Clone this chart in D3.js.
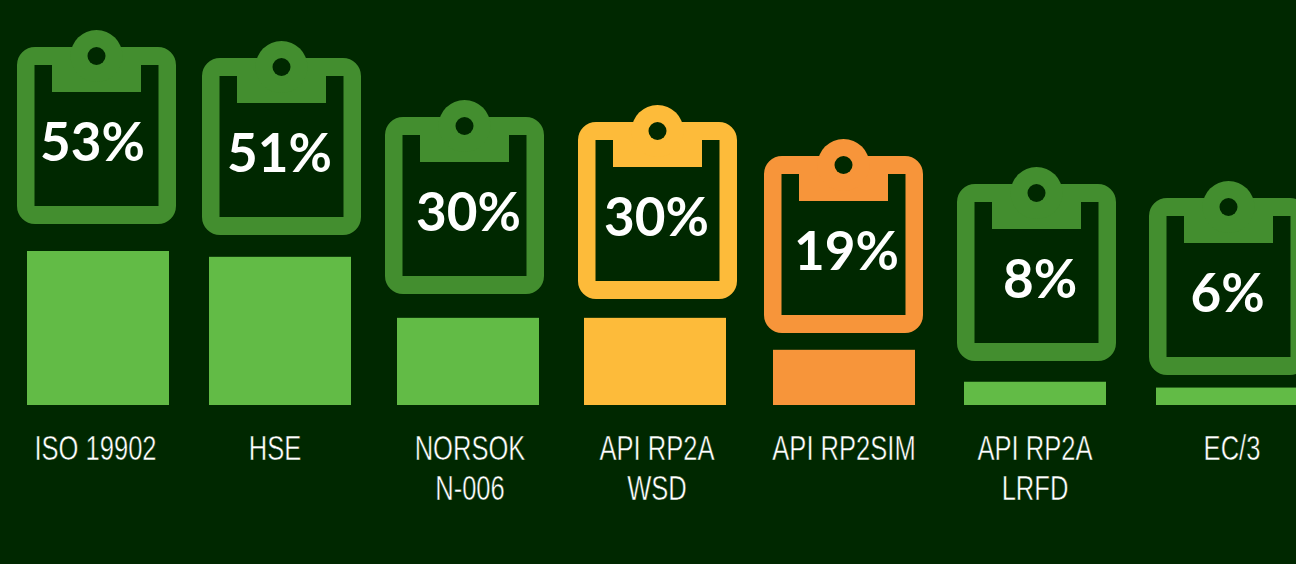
<!DOCTYPE html>
<html>
<head>
<meta charset="utf-8">
<script src="https://cdn.jsdelivr.net/npm/d3@7"></script>
<style>
html, body { margin: 0; padding: 0; background: #002800; overflow: hidden; }
svg { display: block; }
</style>
</head>
<body>
<svg id="chartSvg"></svg>
<script>
const categories = ['ISO 19902', 'HSE', 'NORSOK N-006', 'API RP2A WSD', 'API RP2SIM', 'API RP2A LRFD', 'EC/3']
const shares = [53, 51, 30, 30, 19, 8, 6]
const labelLines = [['ISO 19902'], ['HSE'], ['NORSOK', 'N-006'], ['API RP2A', 'WSD'], ['API RP2SIM'], ['API RP2A', 'LRFD'], ['EC/3']]

const rows = categories.map((name, i) => ({name, share: shares[i], lines: labelLines[i]}))

const width = 1296
const height = 564
const bg = '#002800'
const green = '#438e2f'

const svg = d3.select('#chartSvg').attr('width', width).attr('height', height)

svg.append('rect').attr('width', width).attr('height', height).attr('fill', bg)

// the columns are hand placed in the original, so these are ordinal and not a band scale
const barX = d3.scaleOrdinal().domain(categories).range([27, 209, 397, 584, 773, 964, 1156])
const iconX = d3.scaleOrdinal().domain(categories).range([17, 202, 385, 578, 764, 957, 1149])
const iconY = d3.scaleOrdinal().domain(categories).range([47, 58, 117, 122, 156, 184, 198])
const pctX = d3.scaleOrdinal().domain(categories).range([92.5, 279.5, 468.5, 656.5, 846.5, 1040, 1227.5])
const labelX = d3.scaleOrdinal().domain(categories).range([95.5, 275, 470, 657, 844, 1035, 1232])
const barColor = d3.scaleOrdinal().domain(categories).range(['#62bb46', '#62bb46', '#62bb46', '#fdbb3a', '#f7953a', '#62bb46', '#62bb46'])
const iconColor = d3.scaleOrdinal().domain(categories).range([green, green, green, '#fdbb3a', '#f7953a', green, green])
const yScale = d3.scaleLinear().domain([0, 53]).range([405, 251])

const barWidth = 142
const iconW = 159
const iconH = 177

svg.selectAll('.bar').data(rows)
    .enter()
    .append('rect')
    .attr('class', 'bar')
    .attr('x', d => barX(d.name))
    .attr('y', d => yScale(d.share))
    .attr('width', barWidth)
    .attr('height', d => yScale(0) - yScale(d.share))
    .attr('fill', d => barColor(d.name))

// clipboard outline with a square hole
function boardPath() {
    const r = 18
    const p = d3.path()
    p.moveTo(r, 0)
    p.lineTo(iconW - r, 0)
    p.arcTo(iconW, 0, iconW, r, r)
    p.lineTo(iconW, iconH - r)
    p.arcTo(iconW, iconH, iconW - r, iconH, r)
    p.lineTo(r, iconH)
    p.arcTo(0, iconH, 0, iconH - r, r)
    p.lineTo(0, r)
    p.arcTo(0, 0, r, 0, r)
    p.closePath()
    p.rect(17.5, 18, iconW - 35, iconH - 36)
    return p.toString()
}

const icons = svg.selectAll('.icon').data(rows)
    .enter()
    .append('g')
    .attr('class', 'icon')
    .attr('transform', d => `translate(${iconX(d.name)},${iconY(d.name)})`)

icons.append('path')
    .attr('d', boardPath())
    .attr('fill-rule', 'evenodd')
    .attr('fill', d => iconColor(d.name))

icons.append('rect')
    .attr('x', 35)
    .attr('y', 5)
    .attr('width', 89)
    .attr('height', 40)
    .attr('fill', d => iconColor(d.name))

icons.append('circle')
    .attr('cx', iconW / 2)
    .attr('cy', 9)
    .attr('r', 26)
    .attr('fill', d => iconColor(d.name))

icons.append('circle')
    .attr('cx', iconW / 2)
    .attr('cy', 9)
    .attr('r', 9)
    .attr('fill', bg)

svg.selectAll('.pct').data(rows)
    .enter()
    .append('text')
    .attr('class', 'pct')
    .attr('x', d => pctX(d.name))
    .attr('y', d => iconY(d.name) + 114)
    .attr('text-anchor', 'middle')
    .attr('font-family', 'Lato, sans-serif')
    .attr('font-weight', 700)
    .attr('font-size', 53)
    .attr('fill', '#fff')
    .text(d => d.share + '%')

// no narrow font installed, so squeeze Liberation Sans sideways
const labels = svg.selectAll('.label').data(rows)
    .enter()
    .append('text')
    .attr('class', 'label')
    .attr('transform', d => `translate(${labelX(d.name)},0) scale(0.73,1)`)
    .attr('text-anchor', 'middle')
    .attr('font-family', '"Liberation Sans", sans-serif')
    .attr('font-size', 35)
    .attr('fill', '#fff')
    .attr('stroke', bg)
    .attr('stroke-width', 0.5)
    .attr('paint-order', 'fill')

labels.selectAll('tspan').data(d => d.lines)
    .enter()
    .append('tspan')
    .attr('x', 0)
    .attr('y', (d, i) => 460 + i * 40)
    .text(d => d)
</script>
</body>
</html>
